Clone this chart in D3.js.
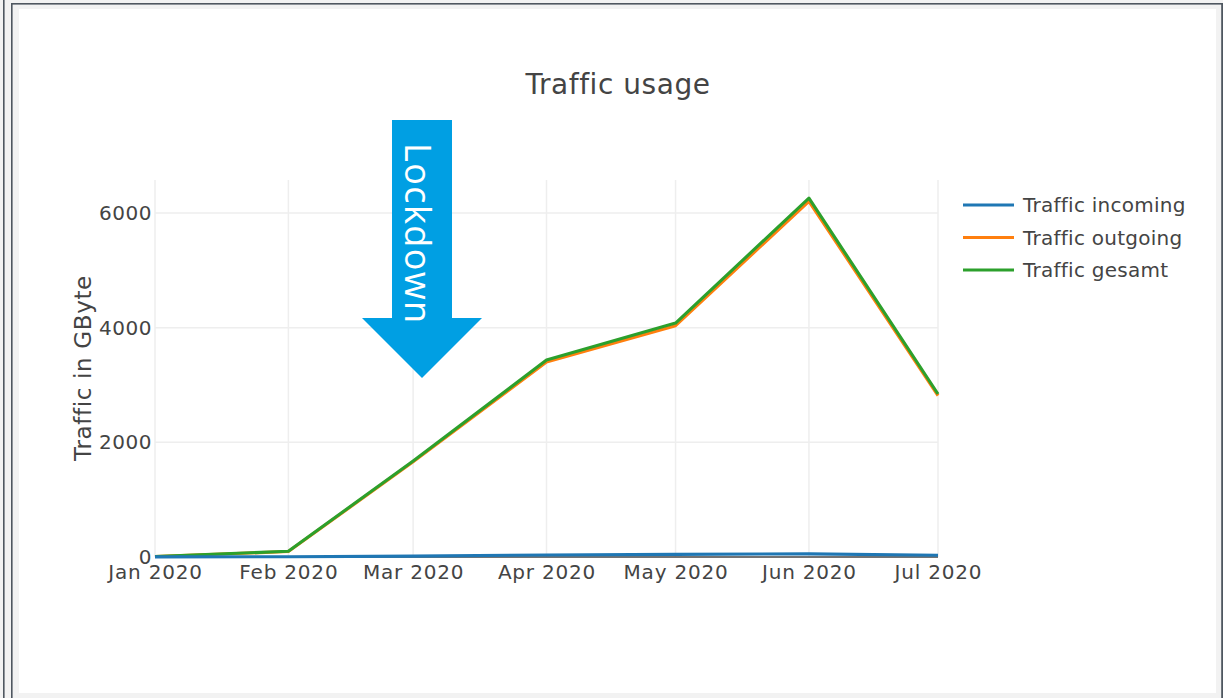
<!DOCTYPE html>
<html>
<head>
<meta charset="utf-8">
<script src="https://cdn.jsdelivr.net/npm/d3@7"></script>
<style>
  html, body { margin: 0; padding: 0; background: #f2f2f2; }
  svg { display: block; }
  text { font-family: "DejaVu Sans", Verdana, sans-serif; fill: #444; }
</style>
</head>
<body>
<svg id="chart" width="1223" height="698"></svg>
<script>
// ---- data ----
const months = ["2020-01-01", "2020-02-01", "2020-03-01", "2020-04-01", "2020-05-01", "2020-06-01", "2020-07-01"];
const incoming = [2, 5, 15, 35, 45, 55, 30];
const outgoing = [8, 95, 1660, 3400, 4035, 6205, 2813];
const gesamt = [10, 100, 1675, 3435, 4080, 6260, 2843];
const seriesNames = ["Traffic incoming", "Traffic outgoing", "Traffic gesamt"];
const seriesColors = ["#1f77b4", "#ff7f0e", "#2ca02c"];
const yTicks = [0, 2000, 4000, 6000];
const title = "Traffic usage";
const yTitle = "Traffic in GByte";
const annotation = "Lockdown";

const svg = d3.select("#chart");
const W = 1223, H = 698;

// ---- frame ----
const dark = "#4f5760";
svg.append("rect").attr("x", 0).attr("y", 0).attr("width", W).attr("height", H).attr("fill", "#f2f2f2");
svg.append("rect").attr("x", 3).attr("y", 0).attr("width", 1.6).attr("height", H).attr("fill", dark);
svg.append("rect").attr("x", 11).attr("y", 3).attr("width", W - 11).attr("height", 1.6).attr("fill", dark);
svg.append("rect").attr("x", 11).attr("y", 3).attr("width", 1.6).attr("height", H - 3).attr("fill", dark);
svg.append("rect").attr("x", W - 1.8).attr("y", 3).attr("width", 1.8).attr("height", H - 3).attr("fill", dark);
svg.append("rect").attr("x", 19).attr("y", 9).attr("width", 1216 - 19).attr("height", 693 - 9).attr("fill", "#ffffff");

// ---- scales ----
const parse = d3.timeParse("%Y-%m-%d");
const dates = months.map(parse);
const x = d3.scaleTime().domain([dates[0], dates[dates.length - 1]]).range([155, 938]);
const y = d3.scaleLinear().domain([0, 6576]).range([557, 180]);

// ---- grid ----
const g = svg.append("g");
g.selectAll(".vgrid").data(dates).enter().append("line")
  .attr("x1", d => x(d)).attr("x2", d => x(d))
  .attr("y1", y.range()[1]).attr("y2", y.range()[0])
  .attr("stroke", "#eeeeee").attr("stroke-width", 1.5);
g.selectAll(".hgrid").data(yTicks.filter(t => t > 0)).enter().append("line")
  .attr("x1", x.range()[0]).attr("x2", x.range()[1])
  .attr("y1", d => y(d)).attr("y2", d => y(d))
  .attr("stroke", "#eeeeee").attr("stroke-width", 1.5);

// ---- axes ----
const xAxis = d3.axisBottom(x).tickValues(dates).tickFormat(d3.timeFormat("%b %Y")).tickSize(0).tickPadding(8);
const xg = svg.append("g").attr("transform", `translate(0,${y(0)})`).call(xAxis);
xg.select(".domain").remove();
xg.selectAll("text").attr("font-size", 20).attr("fill", "#444")
  .style("font-family", "DejaVu Sans, sans-serif").style("letter-spacing", "0.8px");

const yAxis = d3.axisLeft(y).tickValues(yTicks).tickFormat(d3.format("d")).tickSize(0).tickPadding(3);
const yg = svg.append("g").attr("transform", `translate(${x.range()[0]},0)`).call(yAxis);
yg.select(".domain").remove();
yg.selectAll("text").attr("font-size", 20).attr("fill", "#444")
  .style("font-family", "DejaVu Sans, sans-serif").style("letter-spacing", "0.5px");

// ---- lines ----
const seriesData = [incoming, outgoing, gesamt];
const line = d3.line().x((d, i) => x(dates[i])).y(d => y(d));
// zero line
svg.append("line").attr("x1", x.range()[0]).attr("x2", x.range()[1])
  .attr("y1", y(0)).attr("y2", y(0)).attr("stroke", "#444").attr("stroke-width", 1.5);
const order = [1, 2, 0];
order.forEach(k => {
  svg.append("path").datum(seriesData[k]).attr("d", line)
    .attr("fill", "none").attr("stroke", seriesColors[k]).attr("stroke-width", 3.1)
    .attr("stroke-linejoin", "round");
});

// ---- title ----
svg.append("text").attr("x", 618).attr("y", 94).attr("text-anchor", "middle")
  .attr("font-size", 28).style("letter-spacing", "0.55px").text(title);

// ---- y title ----
svg.append("text").attr("transform", "translate(91,368) rotate(-90)").attr("text-anchor", "middle")
  .attr("font-size", 23).style("letter-spacing", "0.65px").text(yTitle);

// ---- legend ----
const leg = svg.append("g");
seriesNames.forEach((n, i) => {
  const ly = 205 + i * 32.5;
  leg.append("line").attr("x1", 963).attr("x2", 1014).attr("y1", ly).attr("y2", ly)
    .attr("stroke", seriesColors[i]).attr("stroke-width", 3.1);
  leg.append("text").attr("x", 1023).attr("y", ly + 7).attr("font-size", 20)
    .style("letter-spacing", "0.25px").text(n);
});

// ---- lockdown arrow ----
const ax = 422;
const arrow = d3.path();
arrow.moveTo(392, 120);
arrow.lineTo(452, 120);
arrow.lineTo(452, 318);
arrow.lineTo(482, 318);
arrow.lineTo(ax, 378);
arrow.lineTo(362, 318);
arrow.lineTo(392, 318);
arrow.closePath();
svg.append("path").attr("d", arrow.toString()).attr("fill", "#009fe3");
svg.append("text").attr("transform", "translate(405,143) rotate(90)")
  .attr("font-size", 36).style("fill", "#ffffff").style("font-family", "'Open Sans', sans-serif")
  .style("font-weight", 400).style("letter-spacing", "1.4px")
  .text(annotation);
</script>
</body>
</html>
